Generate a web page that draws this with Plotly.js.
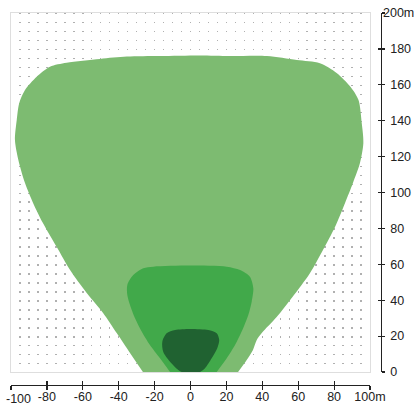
<!DOCTYPE html>
<html>
<head>
<meta charset="utf-8">
<script src="https://cdn.plot.ly/plotly-3.0.1.min.js"></script>
<style>html,body{margin:0;padding:0;background:#fff;}#chart{width:414px;height:406px;}</style>
</head>
<body>
<div id="chart"></div>
<script>
// Outer (light) zone
const outerX = [-26.5,-33.7,-41.1,-48.7,-57.8,-67.1,-74.5,-82.2,-87.7,-92.2,-95.9,-97.8,-96.8,-95.4,-92.2,-85.7,-78.3,-69.0,-50.4,-35.5,-17.0,5.3,22.0,42.6,59.2,72.1,81.4,89.1,93.6,95.4,96.3,94.4,90.5,86.1,80.5,73.8,66.6,56.8,48.0,39.7,36.9,34.8,31.3,26.5];
const outerY = [0,10.6,21.7,32.9,44.0,56.8,69.6,83.0,94.2,105.3,118.1,129.2,140.4,149.9,157.1,164.5,170.1,172.3,174.4,175.7,176.0,176.3,176.0,176.0,173.8,172.0,166.6,158.9,151.5,138.7,127.6,116.4,105.3,94.2,80.8,68.0,55.2,41.8,30.6,21.7,17.8,12.3,6.7,0];
// Middle zone
const midX = [-11.4,-17.0,-22.6,-27.2,-30.9,-33.7,-35.2,-35.2,-31.9,-26.3,-20.7,-0.3,20.2,27.6,33.1,35.0,34.1,32.2,28.5,24.8,20.2,14.6];
const midY = [0,7.6,15.0,22.5,29.9,37.3,42.9,48.5,54.0,57.8,58.7,59.3,58.7,56.8,53.1,46.6,39.2,31.8,22.5,15.0,7.6,0];
// Inner (dark) zone
const innerX = [-4.9,-6.8,-11.4,-15.2,-15.7,-13.3,-8.6,-0.3,9.9,14.6,16.0,14.9,11.8,8.1,5.3];
const innerY = [0,1.1,5.7,11.3,16.9,21.6,23.4,24.0,23.4,21.6,17.8,13.2,7.6,2.1,0];

const xTickVals = [-100,-80,-60,-40,-20,0,20,40,60,80,100];
const xTickText = ['','-80','-60','-40','-20','0','20','40','60','80','100m'];
const yTickVals = [0,20,40,60,80,100,120,140,160,180,200];
const yTickText = ['0','20','40','60','80','100','120','140','160','180',''];

const W = 414, H = 406;
const plotL = 11, plotR = 370, plotT = 13, plotB = 372;
const plotH = plotB - plotT;
const dotPeriod = plotH / 40;

const FONT = {family: 'Liberation Sans, Arial, sans-serif', size: 12.5, color: '#222'};
const AX = '#222';

function zone(x, y, color) {
  return {type: 'scatter', mode: 'lines', x: x, y: y, fill: 'toself', fillcolor: color,
          line: {width: 0, shape: 'spline', smoothing: 0.8}, hoverinfo: 'skip', showlegend: false};
}
function dummy(xa, ya) {
  return {type: 'scatter', mode: 'markers', x: [], y: [], xaxis: xa, yaxis: ya, showlegend: false, hoverinfo: 'skip'};
}

const data = [
  zone(outerX, outerY, '#7dbb71'),
  zone(midX, midY, '#41a94a'),
  zone(innerX, innerY, '#206231'),
  dummy('x2','y'), dummy('x3','y'), dummy('x4','y'), dummy('x','y2'), dummy('x','y3')
];

const xDom = [plotL / W, plotR / W];
const yDom = [(H - plotB) / H, (H - plotT) / H];
const xAxisPos = (H - 385) / H;
const yAxisPos = 380.5 / W;

const common = {showgrid: false, zeroline: false, automargin: false, fixedrange: true};

const layout = {
  width: W, height: H,
  margin: {l: 0, r: 0, t: 0, b: 0},
  paper_bgcolor: '#fff', plot_bgcolor: '#fff',
  font: FONT,
  showlegend: false,
  xaxis: {domain: xDom, range: [-100, 100], fixedrange: true,
          showgrid: true, tick0: 0, dtick: 5, gridcolor: '#b0b0b0', gridwidth: 1.4,
          griddash: '1.4px,' + (dotPeriod - 1.4).toFixed(3) + 'px',
          showticklabels: false, ticks: '', zeroline: false,
          showline: true, mirror: true, linecolor: '#dedede', linewidth: 1, automargin: false},
  yaxis: {domain: yDom, range: [0, 200], fixedrange: true,
          showgrid: false, showticklabels: false, ticks: '', zeroline: false,
          showline: true, mirror: true, linecolor: '#dedede', linewidth: 1, automargin: false},
  // axis line + outside ticks
  xaxis2: Object.assign({overlaying: 'x', anchor: 'free', position: xAxisPos, side: 'bottom', range: [-100, 100],
           tickmode: 'array', tickvals: xTickVals, ticks: 'outside', ticklen: 4, showticklabels: false,
           tickwidth: 1.2, tickcolor: AX, showline: true, linecolor: AX, linewidth: 1.2}, common),
  // inside ticks
  xaxis3: Object.assign({overlaying: 'x', anchor: 'free', position: xAxisPos, side: 'bottom', range: [-100, 100],
           tickmode: 'array', tickvals: xTickVals, ticks: 'inside', ticklen: 4,
           tickwidth: 1.2, tickcolor: AX, showline: false, showticklabels: false}, common),
  // labels
  xaxis4: Object.assign({overlaying: 'x', anchor: 'free', position: xAxisPos, side: 'bottom', range: [-100, 100],
           tickmode: 'array', tickvals: xTickVals, ticktext: xTickText, ticks: '', ticklabelstandoff: 2,
           showline: false, tickfont: FONT}, common),
  yaxis2: Object.assign({overlaying: 'y', anchor: 'free', position: yAxisPos, side: 'right', range: [0, 200],
           tickmode: 'array', tickvals: yTickVals, ticktext: yTickText, ticks: 'outside', ticklen: 3,
           ticklabelstandoff: 3,
           tickwidth: 1.2, tickcolor: AX, showline: true, linecolor: AX, linewidth: 1.2, tickfont: FONT}, common),
  yaxis3: Object.assign({overlaying: 'y', anchor: 'free', position: yAxisPos, side: 'right', range: [0, 200],
           tickmode: 'array', tickvals: yTickVals, ticks: 'inside', ticklen: 3,
           tickwidth: 1.2, tickcolor: AX, showline: false, showticklabels: false}, common),
  annotations: [
    {text: '200m', xref: 'paper', yref: 'y', x: 381 / W, y: 200, xanchor: 'left', yanchor: 'middle',
     showarrow: false, font: FONT},
    {text: '-100', xref: 'x', yref: 'paper', x: -100, y: (H - 398.5) / H, xanchor: 'left', xshift: -7,
     yanchor: 'middle', showarrow: false, font: FONT}
  ]
};

Plotly.newPlot('chart', data, layout, {displayModeBar: false, staticPlot: true});
</script>
</body>
</html>
